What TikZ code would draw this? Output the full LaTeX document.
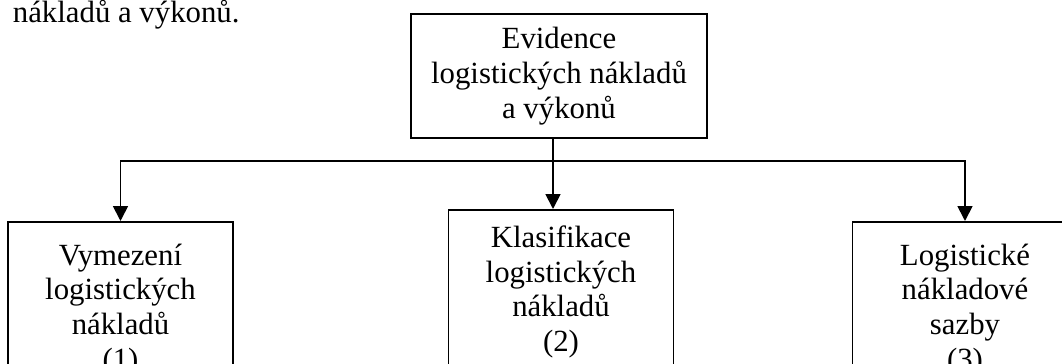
\documentclass[tikz,border=0pt]{standalone}
\usepackage{fontspec}
\setmainfont{Liberation Serif}
\usetikzlibrary{arrows.meta, positioning}

\begin{document}
\begin{tikzpicture}[x=0.5pt, y=-0.5pt, line width=0.9pt,
    font=\fontsize{15.4}{17.4}\selectfont,
    box/.style={draw, rectangle, align=center, anchor=north, minimum width=112.5pt},
    arr/.style={-{Triangle[length=7.5pt, width=7.5pt]}}]
    \useasboundingbox (0,0) rectangle (1062,364);
    \clip (0,0) rectangle (1062,364);

    % nadpis
    \node[anchor=base west, inner sep=0pt] (title) at (12,23) {nákladů a výkonů.};

    % horni blok
    \node[box, minimum width=148pt, minimum height=62pt] (evid) at (559,13)
        {Evidence\\logistických nákladů\\a výkonů};

    % spodni bloky
    \node[box, minimum height=88pt] (vym) at (120.5,221)
        {Vymezení\\logistických\\nákladů\\(1)};
    \node[box, minimum height=82pt] (klas) at (561,209)
        {Klasifikace\\logistických\\nákladů\\(2)};
    \node[box, minimum height=88pt] (sazby) at (965,221)
        {Logistické\\nákladové\\sazby\\(3)};

    % spojnice
    \coordinate (split) at (553,161);
    \draw[arr] (evid.south -| split) -- (klas.north -| split);
    \draw[arr] (split) -| (vym.north);
    \draw[arr] (split) -| (sazby.north);
\end{tikzpicture}
\end{document}
